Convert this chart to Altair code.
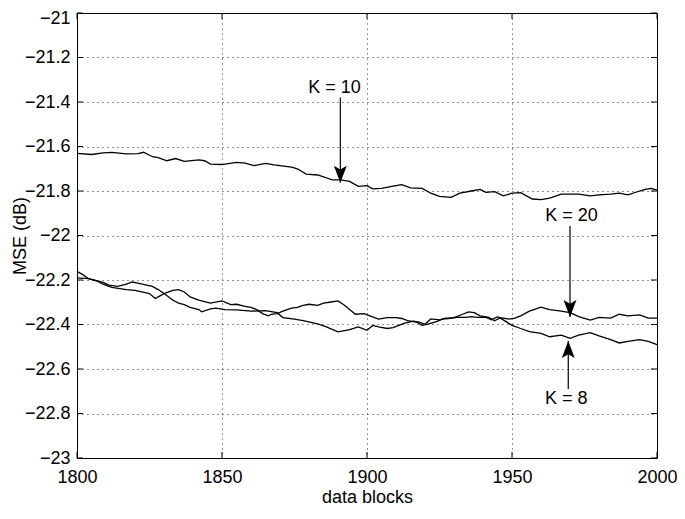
import altair as alt
import pandas as pd

# ---------------- data ----------------
k10_blocks = [1800, 1805, 1809, 1812, 1817, 1821, 1823, 1826, 1828, 1831, 1834, 1837, 1842, 1844,
              1846, 1850, 1855, 1858, 1861, 1865, 1868, 1874, 1876, 1879, 1883, 1885, 1888, 1891,
              1894, 1897, 1900, 1902, 1905, 1909, 1912, 1915, 1919, 1922, 1925, 1929, 1932, 1936,
              1939, 1941, 1944, 1947, 1950, 1953, 1957, 1960, 1963, 1967, 1970, 1973, 1977, 1980,
              1984, 1987, 1990, 1994, 1996, 1998, 2000]
k10_mse = [-21.631, -21.636, -21.629, -21.626, -21.633, -21.632, -21.626, -21.646, -21.650, -21.664,
           -21.654, -21.667, -21.660, -21.664, -21.679, -21.681, -21.671, -21.675, -21.686, -21.676,
           -21.683, -21.693, -21.700, -21.724, -21.728, -21.736, -21.750, -21.750, -21.757, -21.779,
           -21.776, -21.790, -21.788, -21.778, -21.771, -21.786, -21.788, -21.810, -21.824, -21.829,
           -21.810, -21.800, -21.793, -21.806, -21.803, -21.822, -21.810, -21.807, -21.836, -21.839,
           -21.832, -21.814, -21.814, -21.814, -21.822, -21.817, -21.814, -21.810, -21.817, -21.800,
           -21.793, -21.788, -21.796]

k20_blocks = [1800, 1804, 1807, 1809, 1812, 1817, 1820, 1825, 1827, 1828, 1830, 1833, 1835, 1837,
              1839, 1842, 1844, 1846, 1850, 1853, 1855, 1858, 1860, 1862, 1864, 1866, 1867, 1869,
              1871, 1874, 1876, 1878, 1880, 1883, 1885, 1887, 1890, 1892, 1894, 1896, 1899, 1901,
              1904, 1907, 1910, 1912, 1914, 1917, 1919, 1921, 1924, 1926, 1928, 1930, 1933, 1935,
              1937, 1939, 1942, 1944, 1946, 1949, 1951, 1953, 1956, 1960, 1963, 1967, 1970, 1973,
              1977, 1980, 1984, 1987, 1990, 1994, 1997, 2000]
k20_mse = [-22.190, -22.194, -22.205, -22.219, -22.233, -22.243, -22.247, -22.261, -22.283, -22.276,
           -22.261, -22.247, -22.243, -22.254, -22.276, -22.290, -22.297, -22.304, -22.294, -22.311,
           -22.309, -22.319, -22.323, -22.333, -22.351, -22.361, -22.354, -22.351, -22.340, -22.326,
           -22.323, -22.314, -22.309, -22.314, -22.304, -22.300, -22.294, -22.311, -22.333, -22.354,
           -22.351, -22.361, -22.376, -22.369, -22.369, -22.373, -22.383, -22.389, -22.404, -22.398,
           -22.387, -22.376, -22.373, -22.369, -22.354, -22.343, -22.347, -22.361, -22.368, -22.383,
           -22.369, -22.376, -22.371, -22.361, -22.340, -22.322, -22.333, -22.340, -22.347, -22.365,
           -22.380, -22.368, -22.371, -22.354, -22.361, -22.357, -22.371, -22.371]

k8_blocks = [1800, 1802, 1804, 1807, 1809, 1811, 1814, 1817, 1819, 1821, 1824, 1826, 1828, 1830,
             1833, 1835, 1837, 1839, 1842, 1843, 1846, 1848, 1851, 1855, 1860, 1865, 1869, 1871,
             1875, 1878, 1883, 1886, 1890, 1894, 1897, 1900, 1902, 1904, 1907, 1909, 1911, 1913,
             1916, 1918, 1920, 1922, 1925, 1927, 1929, 1931, 1934, 1936, 1938, 1941, 1943, 1945,
             1947, 1950, 1953, 1956, 1960, 1963, 1967, 1970, 1973, 1977, 1980, 1984, 1987, 1990,
             1994, 1997, 2000]
k8_mse = [-22.161, -22.176, -22.194, -22.204, -22.211, -22.223, -22.229, -22.219, -22.209, -22.214,
          -22.223, -22.229, -22.243, -22.261, -22.290, -22.304, -22.311, -22.323, -22.333, -22.343,
          -22.330, -22.326, -22.333, -22.334, -22.340, -22.338, -22.347, -22.369, -22.376, -22.383,
          -22.397, -22.411, -22.433, -22.423, -22.411, -22.426, -22.404, -22.411, -22.418, -22.414,
          -22.404, -22.394, -22.385, -22.389, -22.399, -22.375, -22.379, -22.371, -22.371, -22.368,
          -22.368, -22.365, -22.368, -22.368, -22.379, -22.365, -22.379, -22.404, -22.418, -22.432,
          -22.440, -22.455, -22.448, -22.462, -22.448, -22.437, -22.451, -22.468, -22.483, -22.476,
          -22.468, -22.476, -22.490]

x_ticks = [1800, 1850, 1900, 1950, 2000]
y_ticks = [-21, -21.2, -21.4, -21.6, -21.8, -22, -22.2, -22.4, -22.6, -22.8, -23]

# annotations: label text position and arrow (shaft start -> tip)
ann_labels = ["K = 10", "K = 20", "K = 8"]
ann_text_block = [1888.8, 1970.5, 1968.7]
ann_text_mse = [-21.336, -21.914, -22.737]
ann_arrow_block = [1890.8, 1970.0, 1969.4]
ann_arrow_start = [-21.380, -21.957, -22.690]
ann_arrow_tip = [-21.763, -22.366, -22.474]
ann_arrow_dir = ["down", "down", "up"]

# ---------------- build ----------------
W, H = 580, 445
FONT = "Liberation Sans"

rows = []
for name, bl, vals in [("K = 10", k10_blocks, k10_mse),
                       ("K = 20", k20_blocks, k20_mse),
                       ("K = 8", k8_blocks, k8_mse)]:
    for b, v in zip(bl, vals):
        rows.append({"series": name, "block": b, "mse": v})
df = pd.DataFrame(rows)

xscale = alt.Scale(domain=[1800, 2000], nice=False, zero=False)
yscale = alt.Scale(domain=[-23, -21], nice=False, zero=False)

x_axis = alt.Axis(values=x_ticks, format="d", title="data blocks", grid=True,
                  gridDash=[1, 4], gridColor="black", gridOpacity=0.85, gridWidth=1,
                  domain=False, ticks=False, labelPadding=10, labelFontSize=18,
                  labelFlush=False,
                  labelFont=FONT, labelColor="black", titleFont=FONT, titleFontSize=18,
                  titleFontWeight="normal", titleColor="black", titleBaseline="middle",
                  titleY=39)
y_axis = alt.Axis(values=y_ticks, title="MSE (dB)", grid=True,
                  gridDash=[1, 4], gridColor="black", gridOpacity=0.85, gridWidth=1,
                  domain=False, ticks=False, labelPadding=7, labelFontSize=18,
                  labelFont=FONT, labelColor="black",
                  labelExpr="replace(format(datum.value, '~g'), '-', '\u2212')",
                  labelOffset={"condition": {"test": "datum.value > -21.01", "value": 5}, "value": 0},
                  titleFont=FONT, titleFontSize=18, titleFontWeight="normal",
                  titleColor="black", titleAngle=-90, titleBaseline="middle",
                  titleX=-57, titleY=H / 2)


def X(field):
    return alt.X(field, scale=xscale, axis=x_axis, title="data blocks")


def Y(field):
    return alt.Y(field, scale=yscale, axis=y_axis, title="MSE (dB)")


lines = alt.Chart(df).mark_line(color="black", strokeWidth=1.3).encode(
    x=X("block:Q"), y=Y("mse:Q"), detail="series:N",
)

ytk = pd.DataFrame({"v": y_ticks})
xtk = pd.DataFrame({"v": x_ticks})
tick_left = alt.Chart(ytk).mark_rule(color="black").encode(
    y=Y("v:Q"), x=alt.value(0), x2=alt.value(6))
tick_right = alt.Chart(ytk).mark_rule(color="black").encode(
    y=Y("v:Q"), x=alt.value(W - 6), x2=alt.value(W))
tick_bottom = alt.Chart(xtk).mark_rule(color="black").encode(
    x=X("v:Q"), y=alt.value(H), y2=alt.value(H - 6))
tick_top = alt.Chart(xtk).mark_rule(color="black").encode(
    x=X("v:Q"), y=alt.value(0), y2=alt.value(6))

ann = pd.DataFrame({
    "label": ann_labels, "tb": ann_text_block, "tm": ann_text_mse,
    "ab": ann_arrow_block, "a0": ann_arrow_start, "a1": ann_arrow_tip, "dir": ann_arrow_dir,
})

texts = alt.Chart(ann).mark_text(font=FONT, fontSize=18, color="black",
                                 align="center", baseline="middle").encode(
    x=X("tb:Q"), y=Y("tm:Q"), text="label:N",
)
shafts = alt.Chart(ann).mark_rule(color="black", strokeWidth=1.2).encode(
    x=X("ab:Q"), y=Y("a0:Q"), y2="a1:Q",
)
head_down = alt.Chart(ann).transform_filter("datum.dir == 'down'").mark_point(
    shape="M0,0 L-0.38,-1 L0,-0.78 L0.38,-1 Z", filled=True, color="black",
    opacity=1, size=1156, strokeWidth=0).encode(
    x=X("ab:Q"), y=Y("a1:Q"),
)
head_up = alt.Chart(ann).transform_filter("datum.dir == 'up'").mark_point(
    shape="M0,0 L-0.38,1 L0,0.78 L0.38,1 Z", filled=True, color="black",
    opacity=1, size=1156, strokeWidth=0).encode(
    x=X("ab:Q"), y=Y("a1:Q"),
)

chart = alt.layer(
    lines, tick_left, tick_right, tick_bottom, tick_top, shafts, head_down, head_up, texts
).properties(
    width=W, height=H,
    autosize=alt.AutoSizeParams(type="none"),
    padding={"left": 69, "top": 5, "right": 20, "bottom": 47},
    background="white",
).configure_view(stroke="black", strokeWidth=1)

chart.save("out.html", embed_options={"renderer": "svg", "actions": False})
